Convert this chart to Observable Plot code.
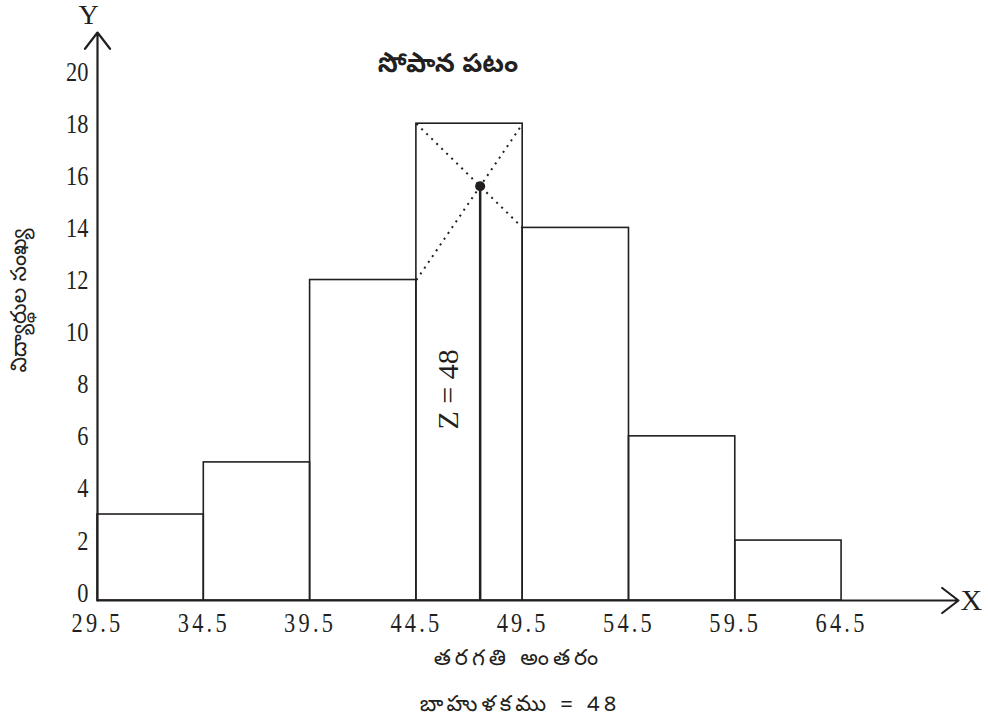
<!DOCTYPE html>
<html><head><meta charset="utf-8">
<script src="https://cdn.jsdelivr.net/npm/d3@7"></script>
<script src="https://cdn.jsdelivr.net/npm/@observablehq/plot@0.6"></script>
<style>
body{margin:0;background:#fff}
#chart{width:988px;height:722px}
</style>
</head><body><div id="chart"></div>
<script>
// ---- data ----
const classEdges = [29.5, 34.5, 39.5, 44.5, 49.5, 54.5, 59.5, 64.5];
const frequencies = [3, 5, 12, 18, 14, 6, 2];
const yTickValues = [0, 2, 4, 6, 8, 10, 12, 14, 16, 18, 20];
const axisExtent = {xMax: 70, yMin: -0.3, yMax: 21.5};
const titleText = "సోపాన పటం";
const yLabelText = "విద్యార్థుల సంఖ్య";
const xLabelText = "తరగతి అంతరం";
const modeText = "బాహుళకము = 48";
const zText = "Z = 48";
const axisNames = ["X", "Y"];

// ---- derived ----
const bins = frequencies.map((f, i) => ({x1: classEdges[i], x2: classEdges[i + 1], f}));
const m = frequencies.indexOf(d3.max(frequencies));
const l = classEdges[m], h = classEdges[m + 1] - classEdges[m];
const f1 = frequencies[m], f0 = frequencies[m - 1], f2 = frequencies[m + 1];
const zMode = l + (f1 - f0) / (2 * f1 - f0 - f2) * h;
const modeY = f1 + (f2 - f1) * (zMode - l) / h;
const diagonals = [
  {x1: l, y1: f1, x2: l + h, y2: f2},
  {x1: l, y1: f0, x2: l + h, y2: f1}
];

const ink = "#231f20";
const serif = "'Liberation Serif', 'Times New Roman', serif";
const telugu = "'Noto Sans Telugu', 'Lohit Telugu', Gautami, sans-serif";
const {xMax, yMin, yMax} = axisExtent;

const chart = Plot.plot({
  width: 988, height: 722,
  marginLeft: 97, marginRight: 30, marginTop: 32, marginBottom: 122,
  x: {domain: [classEdges[0], xMax]},
  y: {domain: [yMin, yMax]},
  style: {fontFamily: serif, color: ink, background: "#fff", overflow: "visible"},
  marks: [
    Plot.rect(bins, {x1: "x1", x2: "x2", y1: yMin, y2: "f", fill: "none", stroke: ink, strokeWidth: 1.6}),
    Plot.link(diagonals, {x1: "x1", y1: "y1", x2: "x2", y2: "y2", stroke: ink, strokeWidth: 2, strokeDasharray: "2,5"}),
    Plot.ruleX([zMode], {y1: yMin, y2: modeY, stroke: ink, strokeWidth: 2.5}),
    Plot.dot([{x: zMode, y: modeY}], {x: "x", y: "y", r: 5, fill: ink, stroke: "none"}),
    Plot.arrow([0], {x1: classEdges[0], y1: yMin, x2: classEdges[0], y2: yMax, stroke: ink, strokeWidth: 2.2, headLength: 14, headAngle: 75}),
    Plot.arrow([0], {x1: classEdges[0], y1: yMin, x2: xMax, y2: yMin, stroke: ink, strokeWidth: 2.2, headLength: 14, headAngle: 75}),
    Plot.axisY({ticks: yTickValues, tickSize: 0, tickPadding: 9, fontSize: 28, fontFamily: serif, label: null}),
    Plot.axisX({ticks: classEdges, tickSize: 0, tickPadding: 12, fontSize: 28, fontFamily: serif, tickFormat: d => d.toFixed(1), label: null}),
    Plot.text([axisNames[1]], {frameAnchor: "top-left", dx: -9, dy: -17, fontSize: 28, fontFamily: serif, textAnchor: "middle", lineAnchor: "middle"}),
    Plot.text([axisNames[0]], {frameAnchor: "bottom-right", dx: 2, dy: 0, fontSize: 30, fontFamily: serif, textAnchor: "start", lineAnchor: "middle"}),
    Plot.text([titleText], {frameAnchor: "top", dx: -80, dy: 31, fontSize: 26, fontWeight: "bold", fontFamily: telugu, textAnchor: "middle", lineAnchor: "middle"}),
    Plot.text([yLabelText], {frameAnchor: "left", dx: -79, dy: -16, rotate: -90, fontSize: 22, fontFamily: telugu, textAnchor: "middle", lineAnchor: "middle"}),
    Plot.text([xLabelText], {frameAnchor: "bottom", dx: -10, dy: 57, fontSize: 22, fontFamily: telugu, textAnchor: "middle", lineAnchor: "middle"}),
    Plot.text([modeText], {frameAnchor: "bottom", dx: -8, dy: 103, fontSize: 22, fontFamily: telugu, textAnchor: "middle", lineAnchor: "middle"}),
    Plot.text([zText], {x: zMode, y: modeY / 2, dx: -32, rotate: -90, fontSize: 30, fontFamily: serif, textAnchor: "middle", lineAnchor: "middle"})
  ]
});

// condensed, letter-spaced tick numerals like the printed original
const svg = d3.select(chart);
svg.selectAll("g[aria-label='x-axis tick label'] text, g[aria-label='y-axis tick label'] text").each(function () {
  const t = d3.select(this);
  const base = t.attr("transform");
  if (base) {
    t.attr("transform", `${base} scale(0.8,1)`);
  } else {
    const x = +t.attr("x") || 0;
    t.attr("x", null).attr("transform", `translate(${x},0) scale(0.8,1)`);
  }
});
svg.selectAll("g[aria-label='x-axis tick label'] text").style("letter-spacing", "4px");
svg.selectAll("g[aria-label='text'] text").filter(function () {
  const s = this.textContent;
  return s === xLabelText || s === modeText;
}).style("letter-spacing", "4px");

document.getElementById("chart").append(chart);
</script>
</body></html>
